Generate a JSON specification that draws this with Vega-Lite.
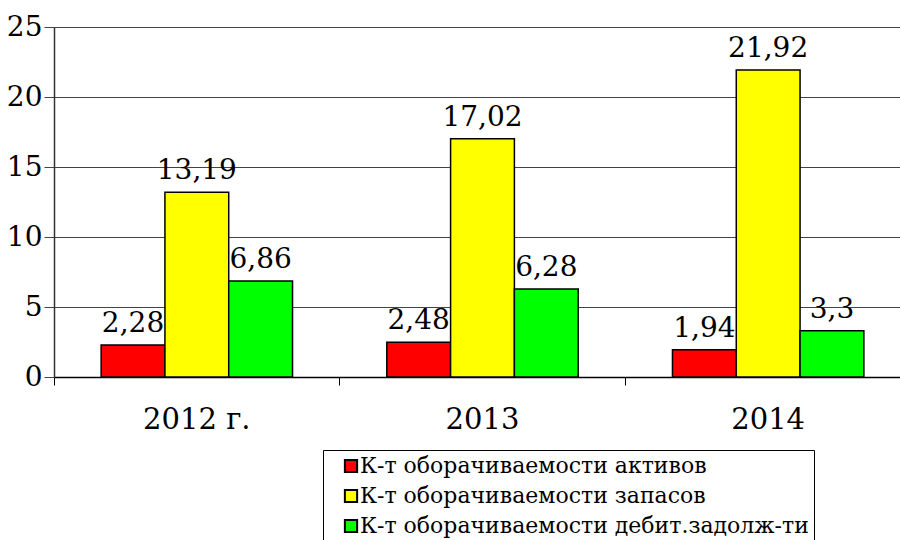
{
  "$schema": "https://vega.github.io/schema/vega-lite/v6.json",
  "autosize": {"type": "none"},
  "padding": {"left": 54, "top": 27, "right": 0, "bottom": 163},
  "width": 846,
  "height": 350,
  "background": "white",
  "config": {
    "view": {"stroke": null},
    "font": "DejaVu Serif",
    "text": {"font": "DejaVu Serif"},
    "axis": {"labelFont": "DejaVu Serif"},
    "legend": {"labelFont": "DejaVu Serif"}
  },
  "data": {
    "values": [
      {"year": "2012 г.", "series": "К-т оборачиваемости активов", "value": 2.28, "label": "2,28"},
      {"year": "2012 г.", "series": "К-т оборачиваемости запасов", "value": 13.19, "label": "13,19"},
      {"year": "2012 г.", "series": "К-т оборачиваемости дебит.задолж-ти", "value": 6.86, "label": "6,86"},
      {"year": "2013", "series": "К-т оборачиваемости активов", "value": 2.48, "label": "2,48"},
      {"year": "2013", "series": "К-т оборачиваемости запасов", "value": 17.02, "label": "17,02"},
      {"year": "2013", "series": "К-т оборачиваемости дебит.задолж-ти", "value": 6.28, "label": "6,28"},
      {"year": "2014", "series": "К-т оборачиваемости активов", "value": 1.94, "label": "1,94"},
      {"year": "2014", "series": "К-т оборачиваемости запасов", "value": 21.92, "label": "21,92"},
      {"year": "2014", "series": "К-т оборачиваемости дебит.задолж-ти", "value": 3.3, "label": "3,3"}
    ]
  },
  "encoding": {
    "x": {
      "field": "year", "type": "nominal", "sort": null,
      "scale": {"range": [0, 857], "paddingInner": 0.33, "paddingOuter": 0.165},
      "axis": {
        "title": null, "labelAngle": 0, "labelFontSize": 29, "labelColor": "black",
        "labelPadding": 20,
        "ticks": true, "tickSize": 8, "tickColor": "black", "bandPosition": -0.246,
        "domainColor": "black", "domainWidth": 1.5, "grid": false
      }
    },
    "xOffset": {
      "field": "series", "type": "nominal",
      "sort": ["К-т оборачиваемости активов", "К-т оборачиваемости запасов", "К-т оборачиваемости дебит.задолж-ти"]
    },
    "y": {
      "field": "value", "type": "quantitative",
      "scale": {"domain": [0, 25], "nice": false},
      "axis": {
        "title": null, "values": [0, 5, 10, 15, 20, 25], "grid": true,
        "gridColor": "#444444", "gridWidth": 1, "labelFontSize": 28,
        "labelColor": "black", "labelPadding": 2,
        "tickSize": 10, "tickColor": "#444444", "domainColor": "#333333", "domainWidth": 1.5
      }
    }
  },
  "layer": [
    {
      "mark": {"type": "bar", "stroke": "black", "strokeWidth": 1.5, "opacity": 1},
      "encoding": {
        "color": {
          "field": "series", "type": "nominal",
          "scale": {
            "domain": ["К-т оборачиваемости активов", "К-т оборачиваемости запасов", "К-т оборачиваемости дебит.задолж-ти"],
            "range": ["#ff0000", "#ffff00", "#00ff00"]
          },
          "legend": {
            "title": null, "orient": "none", "legendX": 269, "legendY": 423,
            "direction": "vertical",
            "fillColor": "white", "strokeColor": "black", "padding": 5,
            "symbolType": "square", "symbolSize": 150, "symbolStrokeColor": "black",
            "symbolStrokeWidth": 2, "symbolOpacity": 1, "symbolOffset": 12,
            "labelFontSize": 22, "labelColor": "black",
            "labelLimit": 600, "labelOffset": -2, "rowPadding": 8,
            "offset": 0
          }
        }
      }
    },
    {
      "mark": {"type": "text", "fontSize": 28, "color": "black", "baseline": "alphabetic", "dy": -13},
      "encoding": {
        "text": {"field": "label"}
      }
    }
  ]
}
